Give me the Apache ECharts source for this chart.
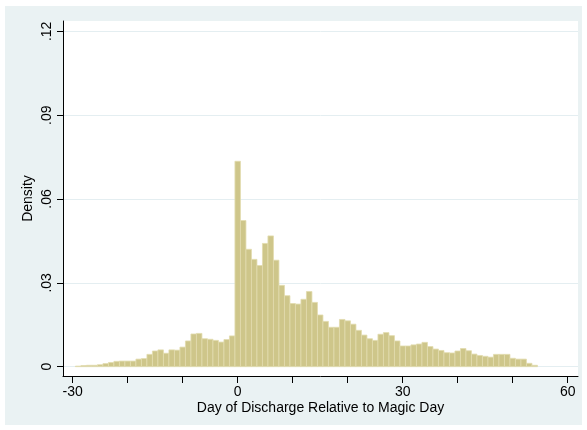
<!DOCTYPE html>
<html>
<head>
<meta charset="utf-8">
<script src="https://cdn.jsdelivr.net/npm/echarts@6/dist/echarts.min.js"></script>
<style>
  html, body { margin: 0; padding: 0; background: #fff; }
  #chart { width: 587px; height: 430px; }
</style>
</head>
<body>
<div id="chart"></div>
<script>
// Day of discharge relative to magic day (one-day bins, centred on each day)
const days = [
  -29, -28, -27, -26, -25, -24, -23, -22, -21, -20,
  -19, -18, -17, -16, -15, -14, -13, -12, -11, -10,
  -9, -8, -7, -6, -5, -4, -3, -2, -1, 0,
  1, 2, 3, 4, 5, 6, 7, 8, 9, 10,
  11, 12, 13, 14, 15, 16, 17, 18, 19, 20,
  21, 22, 23, 24, 25, 26, 27, 28, 29, 30,
  31, 32, 33, 34, 35, 36, 37, 38, 39, 40,
  41, 42, 43, 44, 45, 46, 47, 48, 49, 50,
  51, 52, 53, 54
];

// Histogram density per day
const density = [
  0.0002, 0.0004, 0.0005, 0.0005, 0.0007, 0.0011, 0.0015, 0.0019, 0.0020, 0.0020,
  0.0020, 0.0027, 0.0029, 0.0044, 0.0056, 0.0060, 0.0048, 0.0060, 0.0059, 0.0070,
  0.0092, 0.0117, 0.0119, 0.0100, 0.0098, 0.0094, 0.0088, 0.0097, 0.0110, 0.0735,
  0.0523, 0.0420, 0.0384, 0.0362, 0.0441, 0.0468, 0.0381, 0.0291, 0.0254, 0.0226,
  0.0224, 0.0241, 0.0269, 0.0230, 0.0185, 0.0162, 0.0141, 0.0141, 0.0169, 0.0164,
  0.0152, 0.0130, 0.0113, 0.0100, 0.0094, 0.0116, 0.0122, 0.0111, 0.0092, 0.0074,
  0.0074, 0.0078, 0.0081, 0.0087, 0.0072, 0.0063, 0.0058, 0.0050, 0.0049, 0.0056,
  0.0065, 0.0057, 0.0045, 0.0040, 0.0037, 0.0034, 0.0044, 0.0044, 0.0044, 0.0030,
  0.0027, 0.0027, 0.0012, 0.0005
];

// Axis ticks and labels
const xTicks = [-30, -20, -10, 0, 10, 20, 30, 40, 50, 60];
const xLabels = [-30, 0, 30, 60];
const yTicks = [0, 0.03, 0.06, 0.09, 0.12];

const binWidth = 1;
const FONT = "'Liberation Sans', Arial, sans-serif";

const chart = echarts.init(document.getElementById('chart'), null, { renderer: 'canvas' });

chart.setOption({
  backgroundColor: '#ffffff',
  animation: false,
  textStyle: { fontFamily: FONT },
  graphic: [{
    type: 'rect',
    z: -100,
    silent: true,
    shape: { x: 5, y: 6, width: 577, height: 419 },
    style: { fill: '#EAF2F3' }
  }],
  grid: {
    left: 63, right: 9, top: 21, bottom: 54,
    show: true, backgroundColor: '#ffffff', borderWidth: 0
  },
  xAxis: {
    type: 'value',
    min: -31.76, max: 61.87,
    name: 'Day of Discharge Relative to Magic Day',
    nameLocation: 'middle',
    nameGap: 25,
    nameMoveOverlap: false,
    nameTextStyle: { color: '#000', fontSize: 14, fontFamily: FONT },
    axisLine: { show: true, onZero: false, lineStyle: { color: '#000', width: 1 } },
    axisTick: { show: true, length: 7, customValues: xTicks, lineStyle: { color: '#000' } },
    axisLabel: {
      customValues: xLabels, color: '#000', fontSize: 14, margin: 9, fontFamily: FONT
    },
    splitLine: { show: false }
  },
  yAxis: {
    type: 'value',
    min: -0.00334, max: 0.1237,
    name: 'Density',
    nameLocation: 'middle',
    nameGap: 28,
    nameMoveOverlap: false,
    nameTextStyle: { color: '#000', fontSize: 14, fontFamily: FONT },
    axisLine: { show: true, onZero: false, lineStyle: { color: '#000', width: 1 } },
    axisTick: { show: true, length: 6, customValues: yTicks, lineStyle: { color: '#000' } },
    axisLabel: {
      customValues: yTicks, rotate: 90, color: '#000', fontSize: 14, margin: 9, fontFamily: FONT,
      formatter: v => v === 0 ? '0' : v.toFixed(2).replace(/^0/, '')
    },
    splitLine: { show: true, lineStyle: { color: '#E4EEF1', width: 1 } }
  },
  series: [{
    type: 'custom',
    data: days.map((d, i) => [d, density[i]]),
    encode: { x: 0, y: 1 },
    renderItem: (params, api) => {
      const d = api.value(0);
      const v = api.value(1);
      const topLeft = api.coord([d - binWidth / 2, v]);
      const bottomRight = api.coord([d + binWidth / 2, 0]);
      return {
        type: 'rect',
        shape: {
          x: topLeft[0], y: topLeft[1],
          width: bottomRight[0] - topLeft[0],
          height: bottomRight[1] - topLeft[1]
        },
        style: { fill: '#CEC68A', stroke: '#E2DCAE', lineWidth: 0.8 }
      };
    }
  }]
});
</script>
</body>
</html>
